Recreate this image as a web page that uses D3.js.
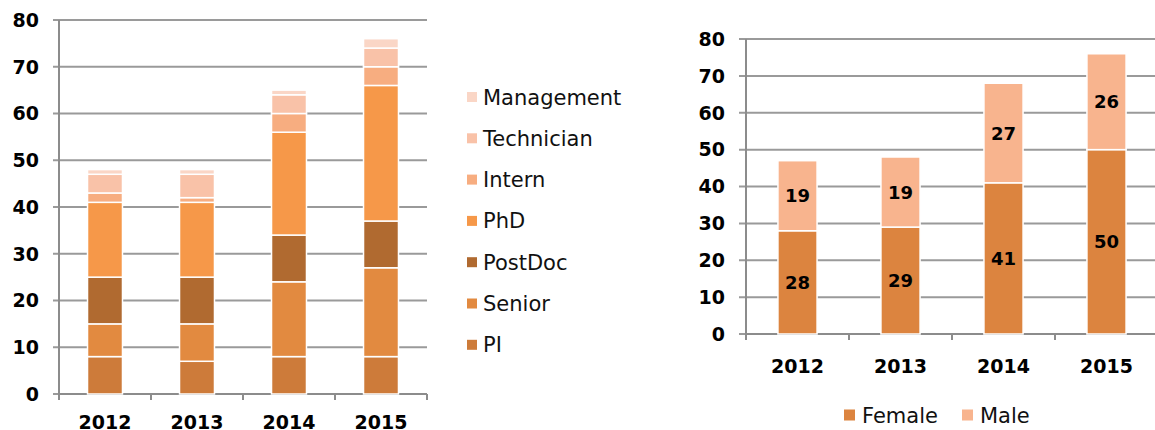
<!DOCTYPE html>
<html>
<head>
<meta charset="utf-8">
<script src="https://cdn.jsdelivr.net/npm/d3@7"></script>
<style>
  body { margin: 0; background: #fff; }
  svg { display: block; font-family: "DejaVu Sans", sans-serif; }
</style>
</head>
<body>
<script>
var years = ["2012", "2013", "2014", "2015"];
var roles = ["PI", "Senior", "PostDoc", "PhD", "Intern", "Technician", "Management"];
var roleValues = {
  PI:         [8, 7, 8, 8],
  Senior:     [7, 8, 16, 19],
  PostDoc:    [10, 10, 10, 10],
  PhD:        [16, 16, 22, 29],
  Intern:     [2, 1, 4, 4],
  Technician: [4, 5, 4, 4],
  Management: [1, 1, 1, 2]
};
var roleColors = ["#cd7b3a", "#e28a40", "#b06a30", "#f69849", "#f7ad80", "#f9c2a8", "#fad6c6"];

var genders = ["Female", "Male"];
var female = [28, 29, 41, 50];
var male = [19, 19, 27, 26];
var genderColors = ["#dc843f", "#f8b48e"];

var yTicks = [0, 10, 20, 30, 40, 50, 60, 70, 80];

var width = 1155, height = 430;
var svg = d3.select("body").append("svg")
    .attr("width", width)
    .attr("height", height);

function drawAxes(g, x, y, x0, x1, gridLeft, gridRight) {
  // gridlines
  g.selectAll(".grid").data(yTicks).enter().append("line")
      .attr("x1", gridLeft).attr("x2", gridRight)
      .attr("y1", function(d){ return y(d); })
      .attr("y2", function(d){ return y(d); })
      .attr("stroke", "#9a9a9a").attr("stroke-width", 2);
  // y labels
  g.selectAll(".ylab").data(yTicks).enter().append("text")
      .attr("x", gridLeft - 14)
      .attr("y", function(d){ return y(d); })
      .attr("dy", "0.36em")
      .attr("text-anchor", "end")
      .attr("font-size", 19).attr("font-weight", "bold")
      .attr("fill", "#000")
      .text(function(d){ return d; });
  // axis lines
  g.append("line").attr("x1", x0).attr("x2", x0)
      .attr("y1", y(80)).attr("y2", y(0) + 6)
      .attr("stroke", "#8c8c8c").attr("stroke-width", 2);
  g.append("line").attr("x1", x0).attr("x2", x1)
      .attr("y1", y(0)).attr("y2", y(0))
      .attr("stroke", "#8c8c8c").attr("stroke-width", 2);
  var bounds = years.map(function(d, i){ return x0 + i * x.step(); });
  bounds.push(x0 + years.length * x.step());
  g.selectAll(".xtick").data(bounds).enter().append("line")
      .attr("x1", function(d){ return d; }).attr("x2", function(d){ return d; })
      .attr("y1", y(0)).attr("y2", y(0) + 6)
      .attr("stroke", "#8c8c8c").attr("stroke-width", 2);
}

// ---- left chart: staff by role ----
var yL = d3.scaleLinear().domain([0, 80]).range([394, 20]);
var xL = d3.scaleBand().domain(years).range([59, 427]).paddingInner(0.62).paddingOuter(0.31);
var gL = svg.append("g");
drawAxes(gL, xL, yL, 59, 427, 53, 427);

var tableL = years.map(function(yr, i){
  var row = { year: yr };
  roles.forEach(function(r){ row[r] = roleValues[r][i]; });
  return row;
});
var stackL = d3.stack().keys(roles)(tableL);

gL.selectAll(".layer").data(stackL).enter().append("g")
    .attr("fill", function(d, i){ return roleColors[i]; })
  .selectAll("rect").data(function(d){ return d; }).enter().append("rect")
    .attr("x", function(d){ return xL(d.data.year); })
    .attr("width", xL.bandwidth())
    .attr("y", function(d){ return yL(d[1]); })
    .attr("height", function(d){ return yL(d[0]) - yL(d[1]); })
    .attr("stroke", "#fff").attr("stroke-width", 1.5);

// year labels sit partly below the picture edge, as in the original
gL.selectAll(".xlab").data(years).enter().append("text")
    .attr("x", function(d){ return xL(d) + xL.bandwidth() / 2; })
    .attr("y", 429)
    .attr("text-anchor", "middle")
    .attr("font-size", 19).attr("font-weight", "bold")
    .text(function(d){ return d; });

// legend (top to bottom reversed order)
var legendRoles = roles.slice().reverse();
var legL = svg.append("g").selectAll("g").data(legendRoles).enter().append("g")
    .attr("transform", function(d, i){ return "translate(467," + (97 + i * 41.3) + ")"; });
legL.append("rect")
    .attr("x", 0).attr("y", -5).attr("width", 10).attr("height", 10)
    .attr("fill", function(d){ return roleColors[roles.indexOf(d)]; });
legL.append("text")
    .attr("x", 16).attr("dy", "0.36em")
    .attr("font-size", 21).attr("fill", "#111")
    .text(function(d){ return d; });

// ---- right chart: staff by gender ----
var yR = d3.scaleLinear().domain([0, 80]).range([334, 39]);
var xR = d3.scaleBand().domain(years).range([746, 1158]).paddingInner(0.62).paddingOuter(0.31);
var gR = svg.append("g");
drawAxes(gR, xR, yR, 746, 1158, 739, 1155);

var tableR = years.map(function(yr, i){
  return { year: yr, Female: female[i], Male: male[i] };
});
var stackR = d3.stack().keys(genders)(tableR);

var layersR = gR.selectAll(".layer").data(stackR).enter().append("g");
layersR.selectAll("rect").data(function(d){ return d; }).enter().append("rect")
    .attr("x", function(d){ return xR(d.data.year); })
    .attr("width", xR.bandwidth())
    .attr("y", function(d){ return yR(d[1]); })
    .attr("height", function(d){ return yR(d[0]) - yR(d[1]); })
    .attr("fill", function(d){ return genderColors[genders.indexOf(this.parentNode.__data__.key)]; })
    .attr("stroke", "#fff").attr("stroke-width", 1.5);
layersR.selectAll("text").data(function(d){ return d; }).enter().append("text")
    .attr("x", function(d){ return xR(d.data.year) + xR.bandwidth() / 2; })
    .attr("y", function(d){ return yR((d[0] + d[1]) / 2); })
    .attr("dy", "0.36em")
    .attr("text-anchor", "middle")
    .attr("font-size", 18).attr("font-weight", "bold").attr("fill", "#000")
    .text(function(d){ return d[1] - d[0]; });

gR.selectAll(".xlab").data(years).enter().append("text")
    .attr("x", function(d){ return xR(d) + xR.bandwidth() / 2; })
    .attr("y", 366).attr("dy", "0.36em")
    .attr("text-anchor", "middle")
    .attr("font-size", 19).attr("font-weight", "bold")
    .text(function(d){ return d; });

var legPos = [844, 962];
var legR = svg.append("g").selectAll("g").data(genders).enter().append("g")
    .attr("transform", function(d, i){ return "translate(" + legPos[i] + ",415)"; });
legR.append("rect")
    .attr("x", 0).attr("y", -5.5).attr("width", 11).attr("height", 11)
    .attr("fill", function(d, i){ return genderColors[i]; });
legR.append("text")
    .attr("x", 18).attr("dy", "0.36em")
    .attr("font-size", 21).attr("fill", "#111")
    .text(function(d){ return d; });
</script>
</body>
</html>
